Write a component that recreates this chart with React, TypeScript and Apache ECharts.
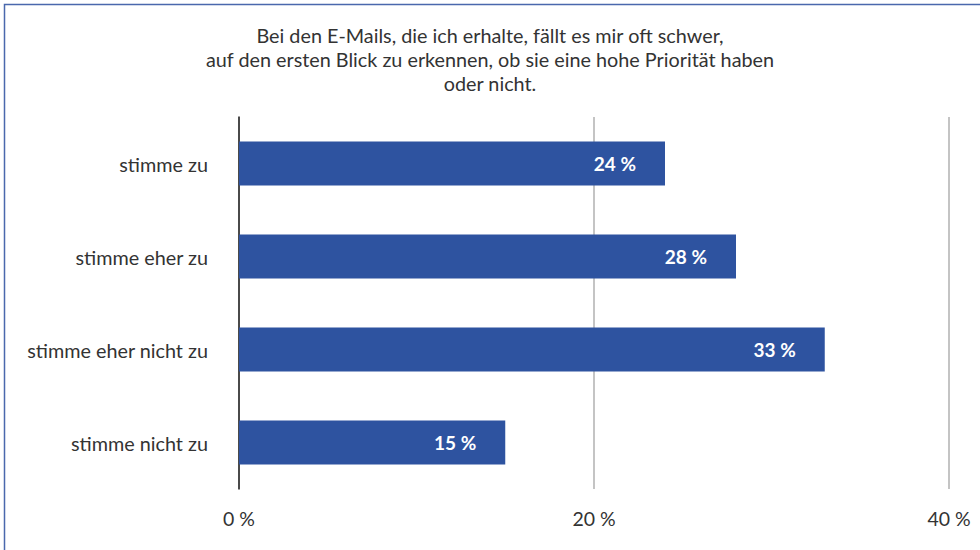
import React, { useEffect, useRef } from "react";
import * as echarts from "echarts";

const titleLines = [
  "Bei den E-Mails, die ich erhalte, fällt es mir oft schwer,",
  "auf den ersten Blick zu erkennen, ob sie eine hohe Priorität haben",
  "oder nicht.",
];
const categories = ["stimme zu", "stimme eher zu", "stimme eher nicht zu", "stimme nicht zu"];
const values = [24, 28, 33, 15];
const axisMin = 0;
const axisMax = 40;
const axisInterval = 20;

const FONT = "Lato";

export default function App() {
  const ref = useRef<HTMLDivElement>(null);
  useEffect(() => {
    if (!ref.current) return;
    const chart = echarts.init(ref.current, null, { renderer: "svg" });
    chart.setOption({
      animation: false,
      backgroundColor: "#ffffff",
      textStyle: { fontFamily: FONT },
      title: {
        text: titleLines.join("\n"),
        left: "center",
        top: 18,
        textStyle: {
          fontFamily: FONT,
          fontSize: 19.8,
          fontWeight: "normal",
          color: "#333333",
          lineHeight: 24,
        },
      },
      graphic: [
        {
          type: "rect",
          shape: { x: 4.5, y: 4.5, width: 1200, height: 1200 },
          style: { fill: "none", stroke: "#4a68ad", lineWidth: 1.5 },
          silent: true,
        },
      ],
      grid: { left: 239, right: 31, top: 117, bottom: 61, containLabel: false },
      xAxis: {
        type: "value",
        min: axisMin,
        max: axisMax,
        interval: axisInterval,
        axisLine: { show: false },
        axisTick: { show: false },
        axisLabel: {
          formatter: (v: number) => `${v} %`,
          fontFamily: FONT,
          fontSize: 19.5,
          color: "#333333",
          margin: 19,
        },
        splitLine: { show: true, lineStyle: { color: "#b0b0b0", width: 1.5 } },
      },
      yAxis: {
        type: "category",
        data: categories,
        inverse: true,
        axisLine: { show: true, lineStyle: { color: "#222222", width: 1.5 } },
        axisTick: { show: false },
        axisLabel: {
          fontFamily: FONT,
          fontSize: 19.8,
          color: "#333333",
          margin: 31,
          padding: [0, 0, 3, 0],
        },
      },
      series: [
        {
          type: "bar",
          data: values,
          barWidth: 44,
          itemStyle: { color: "#2e53a0" },
          label: {
            show: true,
            position: "insideRight",
            distance: 29,
            formatter: (p: any) => `${p.value} %`,
            fontFamily: FONT,
            fontSize: 19,
            fontWeight: "bold",
            color: "#ffffff",
          },
        },
      ],
    });
    return () => chart.dispose();
  }, []);
  return (
    <div
      ref={ref}
      style={{ position: "absolute", left: 0, top: 0, width: 980, height: 550 }}
    />
  );
}
